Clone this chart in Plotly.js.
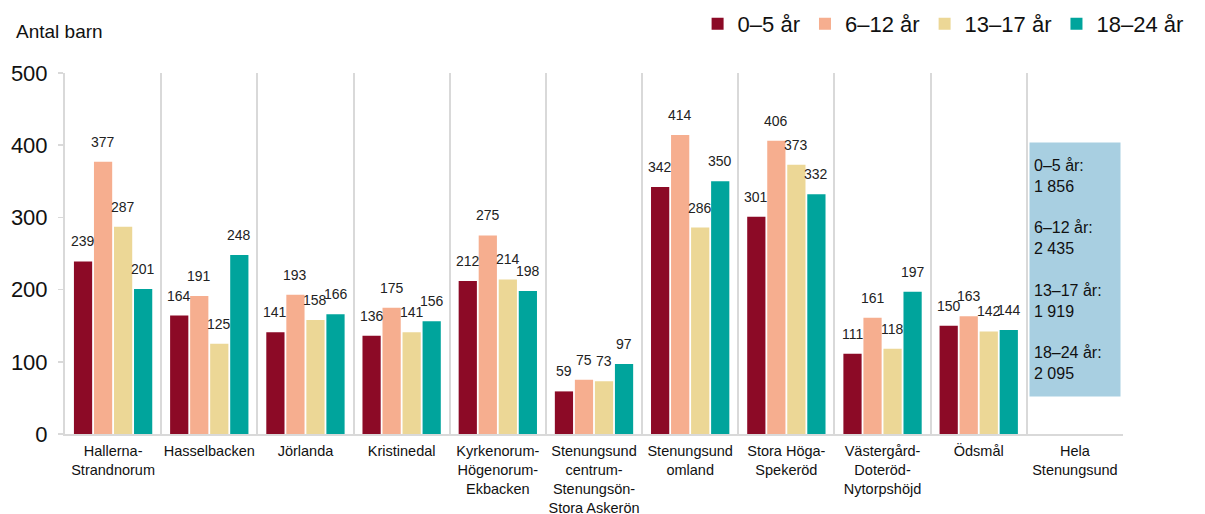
<!DOCTYPE html>
<html>
<head>
<meta charset="utf-8">
<script src="https://cdn.plot.ly/plotly-3.0.1.min.js"></script>
<style>html,body{margin:0;padding:0;background:#fff;}#chart{width:1205px;height:514px;}</style>
</head>
<body>
<div id="chart"></div>
<script>
// Areas (last one is the municipality total, shown as a text box)
const areas = [
  "Hallerna-<br>Strandnorum", "Hasselbacken", "Jörlanda", "Kristinedal",
  "Kyrkenorum-<br>Högenorum-<br>Ekbacken", "Stenungsund<br>centrum-<br>Stenungsön-<br>Stora Askerön",
  "Stenungsund<br>omland", "Stora Höga-<br>Spekeröd", "Västergård-<br>Doteröd-<br>Nytorpshöjd",
  "Ödsmål", "Hela<br>Stenungsund"
];
const ageGroups = ["0–5 år", "6–12 år", "13–17 år", "18–24 år"];
const age0_5   = [239, 164, 141, 136, 212, 59, 342, 301, 111, 150, null];
const age6_12  = [377, 191, 193, 175, 275, 75, 414, 406, 161, 163, null];
const age13_17 = [287, 125, 158, 141, 214, 73, 286, 373, 118, 142, null];
const age18_24 = [201, 248, 166, 156, 198, 97, 350, 332, 197, 144, null];
const totals   = [1856, 2435, 1919, 2095];
const colors   = ["#8c0a26", "#f6ae8f", "#ecd796", "#00a49c"];

const series = [age0_5, age6_12, age13_17, age18_24];
const FONT = "Liberation Sans, Arial, sans-serif";
const BARGAP = 0.167;

const traces = series.map((vals, i) => ({
  type: "bar",
  name: ageGroups[i],
  x: areas,
  y: vals,
  marker: { color: colors[i], line: { width: 0 } },
  hoverinfo: "x+y+name"
}));

// Value labels, centred over each bar of the group and lifted a little above it
const slot = (1 - BARGAP) / series.length;
const valueLabels = [];
series.forEach((vals, k) => {
  vals.forEach((v, i) => {
    if (v == null) return;
    valueLabels.push({
      text: String(v), xref: "x", yref: "y",
      x: i + (k - (series.length - 1) / 2) * slot, y: v,
      xanchor: "center", yanchor: "middle", yshift: 20,
      showarrow: false, font: { size: 14, family: FONT, color: "#222" }
    });
  });
});

const fmt = n => String(n).replace(/\B(?=(\d{3})+(?!\d))/g, " ");
const boxText = ageGroups.map((g, i) => g + ":<br>" + fmt(totals[i])).join("<br><br>");

const layout = {
  width: 1205, height: 514,
  margin: { l: 65, r: 82, t: 73, b: 80, autoexpand: false },
  paper_bgcolor: "#fff", plot_bgcolor: "#fff",
  font: { family: FONT, color: "#111" },
  barmode: "group",
  bargap: BARGAP,
  bargroupgap: 0.09,
  showlegend: true,
  legend: {
    orientation: "h", x: 1.062, xanchor: "right", y: 1.136, yanchor: "middle",
    font: { size: 22, family: FONT, color: "#111" },
    itemwidth: 30, traceorder: "normal"
  },
  xaxis: {
    type: "category", automargin: false,
    tickson: "boundaries",
    showgrid: true, gridcolor: "#d9d9d9", gridwidth: 2,
    showline: true, linecolor: "#d9d9d9", linewidth: 2,
    ticks: "", tickangle: 0, ticklabelstandoff: 3,
    tickfont: { size: 14.5, family: FONT, color: "#111" },
    fixedrange: true
  },
  yaxis: {
    range: [0, 500], tickvals: [0, 100, 200, 300, 400, 500], automargin: false,
    showgrid: false, zeroline: false,
    showline: true, linecolor: "#d9d9d9", linewidth: 2,
    ticks: "outside", ticklen: 5, tickcolor: "#d9d9d9", tickwidth: 1.5,
    ticklabelstandoff: 6,
    tickfont: { size: 22, family: FONT, color: "#111" },
    fixedrange: true
  },
  annotations: valueLabels.concat([
    {
      text: "Antal barn", xref: "paper", yref: "paper",
      x: -0.048, y: 1.116, xanchor: "left", yanchor: "middle",
      showarrow: false, font: { size: 19, family: FONT, color: "#111" }
    },
    {
      text: boxText, xref: "x", yref: "y",
      x: areas.length - 1, y: 228, xanchor: "center", yanchor: "middle",
      showarrow: false, align: "left", bgcolor: "#a8cfe1",
      width: 82, height: 245, borderpad: 4, valign: "middle",
      font: { size: 16, family: FONT, color: "#111" }
    }
  ])
};

Plotly.newPlot("chart", traces, layout, { displayModeBar: false, staticPlot: true });
</script>
</body>
</html>
